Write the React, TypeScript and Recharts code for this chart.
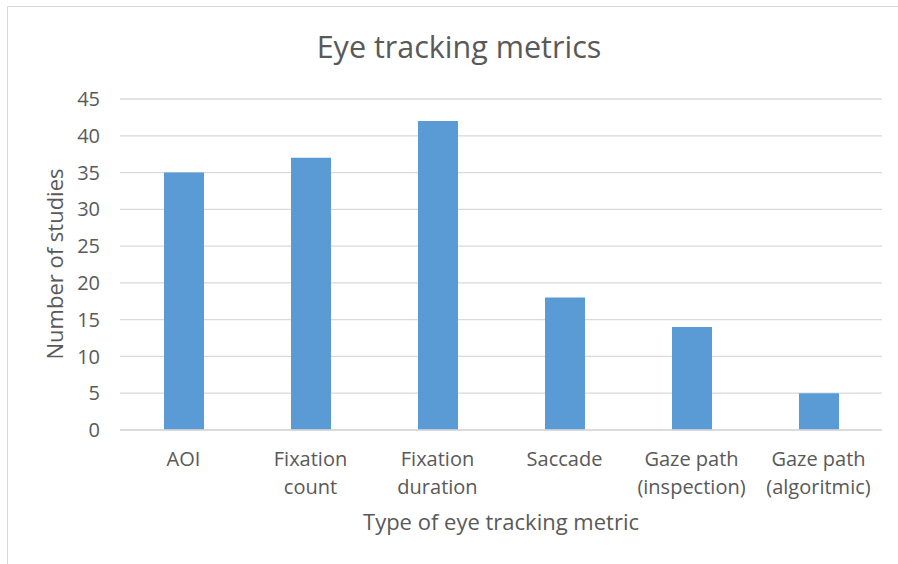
import React from 'react';
import { BarChart, Bar, XAxis, YAxis, CartesianGrid } from 'recharts';

const categories = ['AOI', 'Fixation\ncount', 'Fixation\nduration', 'Saccade', 'Gaze path\n(inspection)', 'Gaze path\n(algoritmic)'];
const studies = [35, 37, 42, 18, 14, 5];
const yTicks = [0, 5, 10, 15, 20, 25, 30, 35, 40, 45];

const data = categories.map((name, i) => ({ name, studies: studies[i] }));

const FONT = '"Open Sans", Lato, sans-serif';
const TEXT = '#595959';
const GRID = '#d9d9d9';

const CategoryTick = (props: any) => {
    const { x, y, payload } = props;
    const lines = String(payload.value).split('\n');
    return (
        <text x={x} y={y} textAnchor="middle" fill={TEXT} fontSize={20} fontFamily={FONT}>
            {lines.map((line, i) => (
                <tspan key={i} x={x} dy={i === 0 ? 28 : 28}>{line}</tspan>
            ))}
        </text>
    );
};

const App = () => {
    return (
        <div style={{ position: 'absolute', left: 0, top: 0, width: 898, height: 564, overflow: 'hidden', background: '#fff' }}>
            <div style={{ position: 'absolute', left: 7, top: 6, width: 1000, height: 1000, border: `1px solid ${GRID}` }} />
            <div style={{ position: 'absolute', left: 0, top: 25, width: 918, textAlign: 'center', fontFamily: FONT, fontSize: 30.5, color: TEXT }}>
                Eye tracking metrics
            </div>
            <div style={{ position: 'absolute', left: 0, top: 0 }}>
                <BarChart width={898} height={564} data={data} margin={{ top: 99, right: 16, left: 0, bottom: 0 }} barSize={40}>
                    <CartesianGrid vertical={false} stroke={GRID} strokeWidth={1.3} />
                    <XAxis
                        dataKey="name"
                        height={134}
                        tickLine={false}
                        axisLine={{ stroke: GRID, strokeWidth: 1.3 }}
                        interval={0}
                        tick={<CategoryTick />}
                        label={{ value: 'Type of eye tracking metric', position: 'insideBottom', offset: 34, fill: TEXT, fontSize: 22, fontFamily: FONT }}
                    />
                    <YAxis
                        width={120}
                        domain={[0, 45]}
                        ticks={yTicks}
                        interval={0}
                        tickLine={false}
                        axisLine={false}
                        tickMargin={14}
                        tick={{ fill: TEXT, fontSize: 20, fontFamily: FONT }}
                        label={{
                            content: () => (
                                <text x={63} y={264} transform="rotate(-90, 63, 264)" textAnchor="middle" fill={TEXT} fontSize={22} fontFamily={FONT}>
                                    Number of studies
                                </text>
                            ),
                        }}
                    />
                    <Bar dataKey="studies" fill="#5b9bd5" isAnimationActive={false} />
                </BarChart>
            </div>
        </div>
    );
};

export default App;
